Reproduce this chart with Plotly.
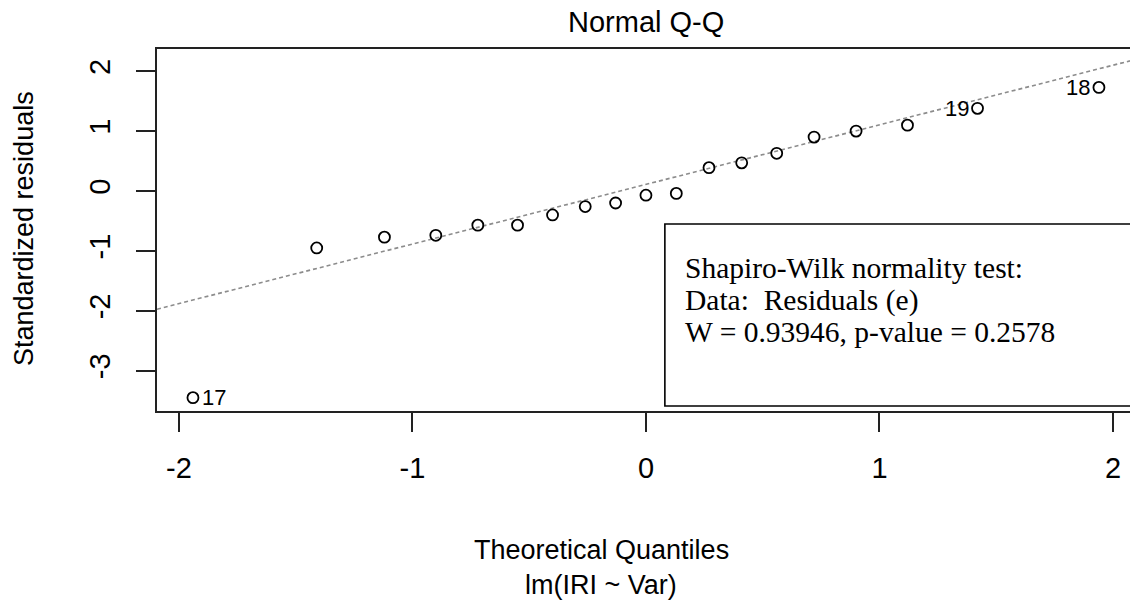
import plotly.graph_objects as go

# ---- data ----
theoretical_q = [-1.94, -1.41, -1.12, -0.90, -0.72, -0.55, -0.40, -0.26, -0.13, 0.00,
                 0.13, 0.27, 0.41, 0.56, 0.72, 0.90, 1.12, 1.42, 1.94]
std_resid = [-3.45, -0.95, -0.77, -0.74, -0.57, -0.57, -0.40, -0.26, -0.20, -0.07,
             -0.04, 0.39, 0.47, 0.63, 0.90, 1.00, 1.10, 1.38, 1.73]
label_text = ["17", "19", "18"]
label_index = [0, 17, 18]
qqline_intercept = 0.11
qqline_slope = 0.995
x_ticks = [-2, -1, 0, 1, 2]
x_tick_labels = ["-2", "-1", "0", "1", "2"]
y_ticks = [-3, -2, -1, 0, 1, 2]
y_tick_labels = ["-3", "-2", "-1", "0", "1", "2"]
title_text = "Normal Q-Q"
xlab_lines = ["Theoretical Quantiles", "lm(IRI ~ Var)"]
ylab_text = "Standardized residuals"
box_lines = ["Shapiro-Wilk normality test:", "Data:  Residuals (e)",
             "W = 0.93946, p-value = 0.2578"]

# ---- layout constants ----
W, H = 1130, 605
ML, MR, MT, MB = 157, 0, 49, 194
X_RANGE = [-2.094, 2.073]
Y_RANGE = [-3.673, 2.371]
SANS = "Liberation Sans, Arial, sans-serif"
SERIF = "Liberation Serif, Times New Roman, serif"
AX = "#222222"

pw = W - ML - MR
ph = H - MT - MB


def px_to_paper_x(px):
    return (px - ML) / pw


def px_to_paper_y(py):
    return (H - MB - py) / ph


fig = go.Figure()

# reference line (qqline) spanning the axis range
line_x = [X_RANGE[0], X_RANGE[1]]
line_y = [qqline_intercept + qqline_slope * v for v in line_x]
fig.add_trace(go.Scatter(
    x=line_x, y=line_y, mode="lines",
    line=dict(color="#8c8c8c", width=1.6, dash="4px,3px"),
    hoverinfo="skip", showlegend=False,
))

# points
fig.add_trace(go.Scatter(
    x=theoretical_q, y=std_resid, mode="markers",
    marker=dict(symbol="circle-open", size=11, color="black",
                line=dict(color="black", width=1.8)),
    showlegend=False,
))

annotations = []
# point labels
for txt, idx in zip(label_text, label_index):
    right_side = theoretical_q[idx] < 0
    annotations.append(dict(
        x=theoretical_q[idx], y=std_resid[idx], xref="x", yref="y",
        text=txt, showarrow=False,
        xanchor="left" if right_side else "right", yanchor="middle",
        xshift=7 if right_side else -7,
        font=dict(family=SANS, size=22, color="black"),
    ))

# title
annotations.append(dict(
    x=px_to_paper_x(646), y=px_to_paper_y(22), xref="paper", yref="paper",
    text=title_text, showarrow=False, xanchor="center", yanchor="middle",
    font=dict(family=SANS, size=29, color="black"),
))
# x-axis title lines
for i, t in enumerate(xlab_lines):
    annotations.append(dict(
        x=px_to_paper_x(601), y=px_to_paper_y(550 + 35 * i), xref="paper", yref="paper",
        text=t, showarrow=False, xanchor="center", yanchor="middle",
        font=dict(family=SANS, size=27, color="black"),
    ))
# y-axis title
annotations.append(dict(
    x=px_to_paper_x(24), y=px_to_paper_y(229), xref="paper", yref="paper",
    text=ylab_text, showarrow=False, xanchor="center", yanchor="middle",
    textangle=-90,
    font=dict(family=SANS, size=27, color="black"),
))

# Shapiro-Wilk text box
box_left = 0.081
box_top = -0.551
box_bottom = -3.589
for i, t in enumerate(box_lines):
    annotations.append(dict(
        x=box_left + 0.077, y=-1.285 - 0.535 * i, xref="x", yref="y",
        text=t, showarrow=False, xanchor="left", yanchor="middle",
        font=dict(family=SERIF, size=29.5, color="black"),
    ))

fig.add_shape(
    type="path", xref="x", yref="y",
    path=f"M {X_RANGE[1] + 0.1} {box_top} L {box_left} {box_top} "
         f"L {box_left} {box_bottom} L {X_RANGE[1] + 0.1} {box_bottom}",
    line=dict(color="black", width=1.6),
)

fig.update_layout(
    width=W, height=H,
    margin=dict(l=ML, r=MR, t=MT, b=MB, pad=0),
    paper_bgcolor="white", plot_bgcolor="white",
    annotations=annotations,
    showlegend=False,
    font=dict(family=SANS, color="black"),
)
fig.update_xaxes(
    range=X_RANGE, tickvals=x_ticks, ticktext=x_tick_labels,
    showgrid=False, zeroline=False,
    showline=True, mirror=True, linecolor=AX, linewidth=2,
    ticks="outside", ticklen=19, tickwidth=2, tickcolor=AX,
    ticklabelstandoff=11,
    tickfont=dict(family=SANS, size=29, color="black"),
)
fig.update_yaxes(
    range=Y_RANGE, tickvals=y_ticks, ticktext=y_tick_labels,
    showgrid=False, zeroline=False,
    showline=True, mirror=False, linecolor=AX, linewidth=2,
    ticks="outside", ticklen=19, tickwidth=2, tickcolor=AX,
    tickangle=-90, ticklabelstandoff=14,
    tickfont=dict(family=SANS, size=29, color="black"),
)

fig.write_html("out.html",
               config={"displayModeBar": False},
               post_script="document.body.style.margin='0px';document.body.style.padding='0px';")
